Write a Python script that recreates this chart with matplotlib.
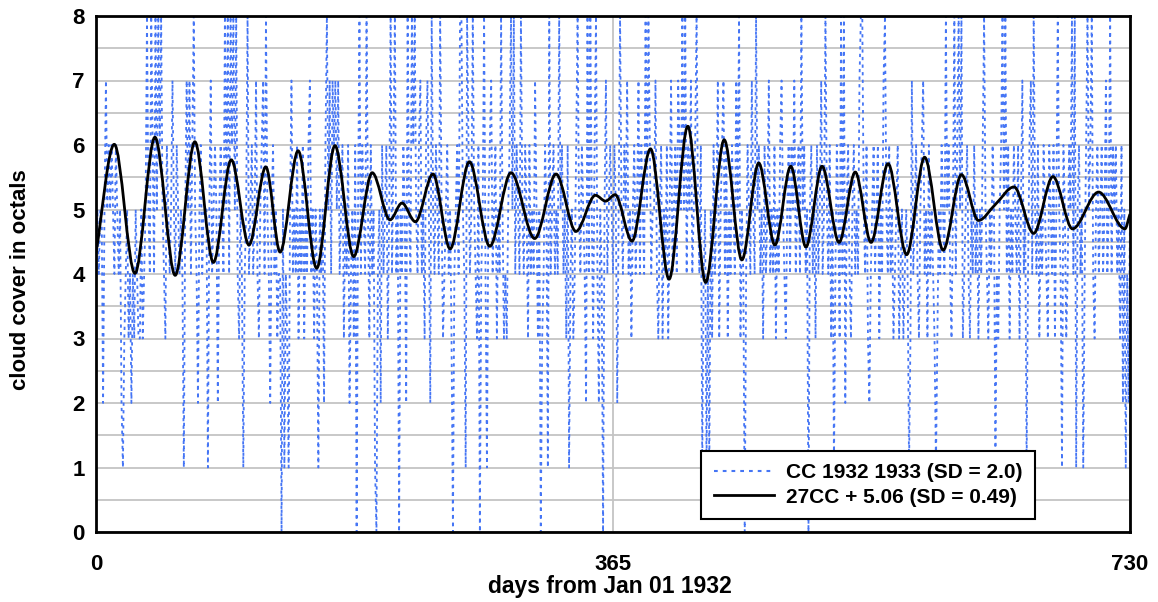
import numpy as np
import matplotlib
matplotlib.use("Agg")
import matplotlib.pyplot as plt
from matplotlib.path import Path
from matplotlib.patches import PathPatch
from matplotlib.lines import Line2D

# ---- data: daily cloud cover (octals) ----
cc_1932 = ("4545525756" "5654654521" "3453424354" "3353458548" "6485868543"
           "6545754654" "5415757468" "5425645551" "5745652565" "4858486858"
           "4354145845" "6457435674" "8542564534" "4051431574" "5463546354"
           "6745354154" "5268574767" "5745635462" "4536058465" "4853645104"
           "5264563584" "6845054652" "8548685467" "4536752854" "6548534564"
           "5304564885" "4186458543" "6045841567" "4563548534" "3568584654"
           "8546536454" "7535034651" "8456454856" "4536145346" "8546542848"
           "5368425405" "745654")
cc_1933 = ("6525"
           "8546574535" "6457465485" "8645574356" "3546357456" "4765858465"
           "7456854614" "5141536457" "3567463546" "5475835404" "6547548564"
           "5364574546" "3546754356" "4657456485" "6450564536" "4574585463"
           "5146538482" "5643564547" "8854632456" "4563547854" "6453456345"
           "3454137456" "4356745364" "5431354654" "8564358468" "5834564354"
           "6453546854" "3546514356" "8584635465" "4635745146" "7485463546"
           "5436546358" "5416534658" "4815645146" "8568435645" "6457458465"
           "6453625142" "5")

# ---- data: 27CC + 5.06 model curve, turning points ----
model_days = [0, 12.9, 27.5, 41.6, 55.9, 69.8, 82.9, 95.5, 108, 119.9,
              130, 142.7, 155.8, 168.7, 181.9, 195, 207.6, 216, 225.5, 237.9,
              250, 263.6, 278, 293, 309.7, 324.8, 338.8, 352.6, 359.8, 366.5,
              378.4, 391.5, 404.6, 417.8, 430.4, 443.5, 456, 467.9, 479.3, 490.5,
              501.2, 512.6, 524.6, 536, 547.2, 559.2, 572.3, 585, 598.1, 611,
              623, 635, 648.1, 662, 675.6, 689.4, 707.8, 726.4, 730]
model_vals = [4.33, 6.01, 4.01, 6.12, 3.98, 6.05, 4.18, 5.77, 4.45, 5.66,
              4.34, 5.91, 4.09, 5.99, 4.27, 5.57, 4.84, 5.10, 4.81, 5.55,
              4.39, 5.74, 4.43, 5.57, 4.55, 5.55, 4.66, 5.22, 5.13, 5.23,
              4.51, 5.94, 3.92, 6.29, 3.87, 6.08, 4.22, 5.72, 4.45, 5.67,
              4.42, 5.67, 4.49, 5.58, 4.49, 5.71, 4.30, 5.81, 4.37, 5.54,
              4.83, 5.08, 5.35, 4.63, 5.51, 4.70, 5.27, 4.70, 4.93]

x_ticks = [0, 365, 730]
y_ticks = list(range(0, 9))

cc = np.array([int(c) for c in cc_1932 + cc_1933], dtype=float)
days = np.arange(len(cc))

plt.rcParams['font.family'] = ['Liberation Sans', 'DejaVu Sans']
plt.rcParams['font.weight'] = 'bold'

fig = plt.figure(figsize=(11.58, 6.02), dpi=100)
ax = fig.add_axes([96/1158, (602-532)/602, (1130-96)/1158, (532-16)/602])

blue = '#4575f5'
dash = (0, (1.8, 2.4))
ax.plot(days, cc, color=blue, lw=1.3, linestyle=dash, zorder=3)

# smooth curve through turning points (monotone cubic Bezier rendering)
xd = np.array(model_days, dtype=float)
yd = np.array(model_vals, dtype=float)
h = np.diff(xd)
d = np.diff(yd) / h
m = np.zeros_like(yd)
m[0] = d[0]
m[-1] = d[-1]
for k in range(1, len(yd) - 1):
    if d[k-1] * d[k] > 0:
        w1 = 2*h[k] + h[k-1]
        w2 = h[k] + 2*h[k-1]
        m[k] = (w1 + w2) / (w1/d[k-1] + w2/d[k])
verts = [(xd[0], yd[0])]
codes = [Path.MOVETO]
for i in range(len(h)):
    verts += [(xd[i] + h[i]/3, yd[i] + m[i]*h[i]/3),
              (xd[i+1] - h[i]/3, yd[i+1] - m[i+1]*h[i]/3),
              (xd[i+1], yd[i+1])]
    codes += [Path.CURVE4] * 3
ax.add_patch(PathPatch(Path(verts, codes), fill=False, edgecolor='black',
                       lw=2.0, zorder=4, transform=ax.transData))

ax.set_xlim(0, 730)
ax.set_ylim(0, 8)
ax.set_xticks(x_ticks)
ax.set_yticks(y_ticks)
ax.set_yticks(np.arange(0.5, 8, 1.0), minor=True)
ax.grid(True, which='major', axis='both', color='#c4c4c4', lw=1.3, zorder=0)
ax.grid(True, which='minor', axis='y', color='#c4c4c4', lw=1.3, zorder=0)
ax.set_axisbelow(True)
ax.tick_params(which='both', length=0)
ax.tick_params(axis='y', labelsize=16, pad=8)
ax.tick_params(axis='x', labelsize=16, pad=16)
for lab in ax.get_xticklabels() + ax.get_yticklabels():
    lab.set_fontweight('bold')
for sp in ax.spines.values():
    sp.set_linewidth(2.0)
    sp.set_color('black')
    sp.set_zorder(6)

ax.set_xlabel('days from Jan 01 1932', fontsize=16.5, fontweight='bold', va='center')
ax.xaxis.set_label_coords((610 - 96) / 1034, -(587 - 532) / 516)
ax.set_ylabel('cloud cover in octals', fontsize=16, fontweight='bold', va='center')
ax.yaxis.set_label_coords(-(96 - 21) / 1034, (532 - 280) / 516)

handles = [Line2D([], [], color=blue, lw=1.5, linestyle=dash),
           Line2D([], [], color='black', lw=2.0)]
leg = ax.legend(handles, ['CC 1932 1933 (SD = 2.0)', '27CC + 5.06 (SD = 0.49)'],
                loc='lower right', bbox_to_anchor=(0.908, 0.025),
                prop={'size': 15, 'weight': 'bold'}, fancybox=False,
                framealpha=1, edgecolor='black', handlelength=2.9,
                borderpad=0.6, labelspacing=0.25, handletextpad=0.55,
                borderaxespad=0.0)
leg.get_frame().set_linewidth(1.5)
leg.set_zorder(10)

fig.savefig('out.png', dpi=100)
